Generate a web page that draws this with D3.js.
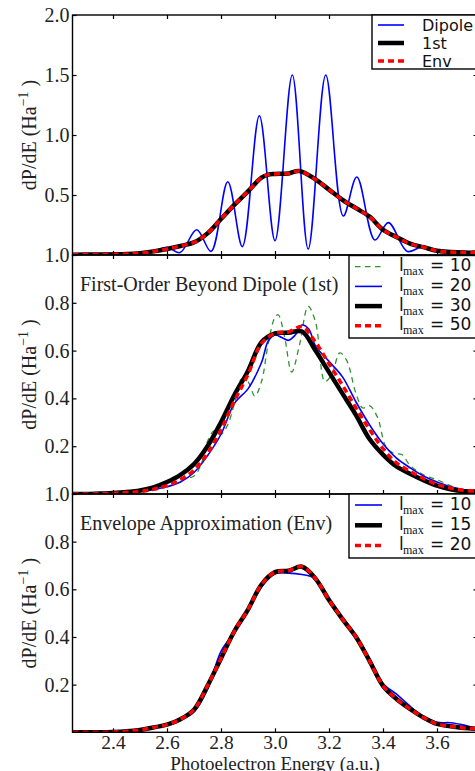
<!DOCTYPE html>
<html><head><meta charset="utf-8">
<script src="https://cdn.jsdelivr.net/npm/d3@7"></script>
<style>
html,body{margin:0;padding:0;background:#fff;}
svg{display:block;}
</style></head><body>
<svg id="chart" width="475" height="771"></svg>
<script>
// ---------- DATA ----------
const xDomain = [2.25, 3.75];
const xTicks = [2.4, 2.6, 2.8, 3.0, 3.2, 3.4, 3.6];
const xLabel = "Photoelectron Energy (a.u.)";

// Top panel
const topYTicks = [0.5, 1.0, 1.5, 2.0];
const dipoleEnergy = [2.25,2.4,2.5,2.56,2.6,2.648,2.71,2.763,2.825,2.879,2.942,3.0,3.064,3.123,3.188,3.253,3.303,3.37,3.42,3.49,3.543,3.6,3.65,3.75];
const dipoleValues = [0.003,0.005,0.012,0.04,0.065,0.02,0.21,0.03,0.61,0.07,1.16,0.12,1.50,0.05,1.50,0.325,0.65,0.125,0.27,0.03,0.065,0.025,0.02,0.02];
const topEnergy = [2.25,2.35,2.45,2.5,2.55,2.6,2.65,2.7,2.75,2.8,2.85,2.9,2.95,2.975,3.0,3.05,3.09,3.15,3.2,3.25,3.3,3.35,3.4,3.45,3.5,3.55,3.6,3.65,3.7,3.75];
const firstOrderValues = [0.003,0.004,0.008,0.015,0.03,0.05,0.075,0.105,0.18,0.30,0.42,0.53,0.645,0.67,0.675,0.68,0.70,0.63,0.545,0.46,0.39,0.32,0.21,0.15,0.095,0.065,0.035,0.025,0.02,0.02];
const envValues = [0.003,0.004,0.008,0.015,0.03,0.05,0.075,0.105,0.18,0.30,0.42,0.53,0.645,0.67,0.675,0.68,0.70,0.63,0.545,0.46,0.39,0.32,0.21,0.15,0.095,0.065,0.035,0.025,0.02,0.02];

// Middle panel (First-Order Beyond Dipole)
const midYTicks = [0.2, 0.4, 0.6, 0.8, 1.0];
const midTitle = "First-Order Beyond Dipole (1st)";
const mid10Energy = [2.25,2.4,2.5,2.55,2.6,2.65,2.7,2.725,2.75,2.775,2.8,2.825,2.85,2.875,2.9,2.925,2.95,2.975,3.0,3.012,3.035,3.062,3.09,3.123,3.15,3.185,3.21,3.24,3.265,3.3,3.325,3.35,3.38,3.41,3.44,3.47,3.5,3.55,3.6,3.65,3.7,3.75];
const mid10Values = [0,0.003,0.008,0.015,0.035,0.06,0.075,0.12,0.22,0.265,0.25,0.29,0.38,0.48,0.47,0.41,0.47,0.63,0.74,0.75,0.66,0.51,0.62,0.785,0.72,0.47,0.50,0.59,0.56,0.42,0.36,0.37,0.32,0.20,0.17,0.165,0.12,0.08,0.06,0.035,0.015,0.012];
const mid20Energy = [2.25,2.4,2.5,2.55,2.6,2.65,2.7,2.75,2.8,2.85,2.9,2.95,2.975,3.0,3.025,3.05,3.075,3.1,3.125,3.15,3.2,3.25,3.3,3.35,3.4,3.45,3.5,3.55,3.6,3.65,3.7,3.75];
const mid20Values = [0,0.003,0.01,0.018,0.03,0.05,0.09,0.16,0.25,0.38,0.44,0.55,0.64,0.665,0.655,0.643,0.665,0.707,0.69,0.62,0.555,0.49,0.385,0.29,0.21,0.15,0.11,0.075,0.05,0.03,0.018,0.012];
const gridEnergy = [2.25,2.3,2.35,2.4,2.45,2.5,2.55,2.6,2.65,2.7,2.75,2.8,2.85,2.9,2.95,3.0,3.05,3.1,3.15,3.2,3.25,3.3,3.35,3.4,3.45,3.5,3.55,3.6,3.65,3.7,3.75];
const mid30Values = [0,0,0.002,0.004,0.008,0.015,0.028,0.05,0.08,0.125,0.20,0.30,0.415,0.515,0.635,0.672,0.675,0.68,0.60,0.51,0.42,0.33,0.23,0.165,0.115,0.085,0.058,0.035,0.02,0.012,0.01];
const mid50Values = [0,0,0.001,0.003,0.006,0.01,0.02,0.035,0.06,0.10,0.17,0.27,0.39,0.50,0.63,0.672,0.678,0.70,0.635,0.545,0.455,0.36,0.27,0.19,0.13,0.095,0.065,0.04,0.025,0.015,0.012];
const midLegend = ["10", "20", "30", "50"];

// Bottom panel (Envelope Approximation)
const botYTicks = [0.2, 0.4, 0.6, 0.8, 1.0];
const botTitle = "Envelope Approximation (Env)";
const bot10Values = [0,0,0,0.001,0.004,0.01,0.02,0.032,0.052,0.085,0.18,0.34,0.42,0.51,0.61,0.665,0.668,0.662,0.645,0.555,0.475,0.405,0.31,0.205,0.16,0.11,0.065,0.042,0.04,0.03,0.015];
const bot15Values = [0,0,0,0.001,0.004,0.01,0.02,0.032,0.055,0.095,0.195,0.31,0.425,0.515,0.62,0.672,0.678,0.695,0.645,0.555,0.475,0.40,0.30,0.195,0.14,0.098,0.062,0.035,0.025,0.018,0.015];
const bot20Values = [0,0,0,0.001,0.004,0.01,0.02,0.032,0.055,0.095,0.195,0.31,0.425,0.515,0.62,0.672,0.678,0.695,0.645,0.555,0.475,0.40,0.30,0.195,0.14,0.098,0.062,0.035,0.025,0.018,0.015];
const botLegend = ["10", "15", "20"];
const topLegend = ["Dipole", "1st", "Env"];

// ---------- STYLES ----------
const SERIF = "'Liberation Serif','Times New Roman',serif";
const SANS = "'DejaVu Sans',sans-serif";
const st = {
  blue:  {stroke:"#0000ff", width:1.6, dash:null},
  black: {stroke:"#000000", width:4.5, dash:null},
  red:   {stroke:"#ff0000", width:3.5, dash:"6,4"},
  green: {stroke:"#2f922f", width:1.3, dash:"5.5,4.5"}
};

const svg = d3.select("#chart");
svg.append("rect").attr("width",475).attr("height",771).attr("fill","#fff");

const x = d3.scaleLinear().domain(xDomain).range([72.5, 477.5]);
const L = 72.5, R = 477.5;

const zip = (xs, ys) => xs.map((e,i)=>[e, ys[i]]);

const panels = [
  {id:"p0", top:15, bottom:255, domain:[0,2], ticks:topYTicks, fmt:d3.format(".1f"),
   series:[
     {d:zip(dipoleEnergy,dipoleValues), s:st.blue},
     {d:zip(topEnergy,firstOrderValues), s:st.black},
     {d:zip(topEnergy,envValues), s:st.red}
   ]},
  {id:"p1", top:255, bottom:494, domain:[0,1], ticks:midYTicks, fmt:d3.format(".1f"), title:midTitle,
   series:[
     {d:zip(mid10Energy,mid10Values), s:st.green},
     {d:zip(mid20Energy,mid20Values), s:st.blue},
     {d:zip(gridEnergy,mid30Values), s:st.black},
     {d:zip(gridEnergy,mid50Values), s:st.red}
   ]},
  {id:"p2", top:494, bottom:732.3, domain:[0,1], ticks:botYTicks, fmt:d3.format(".1f"), title:botTitle, xlabels:true,
   series:[
     {d:zip(gridEnergy,bot10Values), s:st.blue},
     {d:zip(gridEnergy,bot15Values), s:st.black},
     {d:zip(gridEnergy,bot20Values), s:st.red}
   ]}
];

const defs = svg.append("defs");

panels.forEach(p => {
  const y = d3.scaleLinear().domain(p.domain).range([p.bottom, p.top]);
  p.y = y;
  defs.append("clipPath").attr("id","clip-"+p.id)
    .append("rect").attr("x",L).attr("y",p.top).attr("width",R-L).attr("height",p.bottom-p.top);
  const g = svg.append("g").attr("clip-path","url(#clip-"+p.id+")");
  const line = d3.line().x(d=>x(d[0])).y(d=>y(d[1])).curve(d3.curveCatmullRom.alpha(0.5));
  p.series.forEach(sr => {
    g.append("path").attr("d", line(sr.d)).attr("fill","none")
      .attr("stroke", sr.s.stroke).attr("stroke-width", sr.s.width)
      .attr("stroke-dasharray", sr.s.dash).attr("stroke-linejoin","round");
  });
});

// axes & frames
panels.forEach(p => {
  const y = p.y;
  const gl = svg.append("g").attr("transform",`translate(${L},0)`)
    .call(d3.axisLeft(y).tickValues(p.ticks).tickFormat(p.fmt).tickSize(-4).tickPadding(3));
  const gr = svg.append("g").attr("transform",`translate(${R},0)`)
    .call(d3.axisRight(y).tickValues(p.ticks).tickFormat("").tickSize(-4));
  const gb = svg.append("g").attr("transform",`translate(0,${p.bottom})`)
    .call(d3.axisBottom(x).tickValues(xTicks).tickFormat(p.xlabels ? d3.format(".1f") : "").tickSize(-4).tickPadding(3));
  const gt = svg.append("g").attr("transform",`translate(0,${p.top})`)
    .call(d3.axisTop(x).tickValues(xTicks).tickFormat("").tickSize(-4));
  [gl,gr,gb,gt].forEach(a => {
    a.select(".domain").remove();
    a.selectAll(".tick line").attr("stroke","#000").attr("stroke-width",1.2);
    a.selectAll("text").attr("font-family",SERIF).attr("font-size",20).attr("fill","#222");
  });
  gb.selectAll("text").attr("font-size",19.5);
  svg.append("rect").attr("x",L).attr("y",p.top).attr("width",R-L).attr("height",p.bottom-p.top)
    .attr("fill","none").attr("stroke","#000").attr("stroke-width",1.4);
  // y label
  const cy = (p.top + p.bottom)/2;
  const t = svg.append("text").attr("transform",`translate(36,${cy}) rotate(-90)`)
    .attr("text-anchor","middle").attr("font-family",SERIF).attr("font-size",20).attr("fill","#222");
  t.append("tspan").text("dP/dE (Ha");
  t.append("tspan").attr("font-size",14).attr("dy",-8).text("\u22121");
  t.append("tspan").attr("dy",8).text(" )");
  if (p.title) {
    svg.append("text").attr("x",80).attr("y",p.top + 36).attr("font-family",SERIF)
      .attr("font-size",20).attr("fill","#222").text(p.title);
  }
});

// x label (bottom edge slightly cut, as in the reference)
svg.append("text").attr("x",275).attr("y",769.5).attr("text-anchor","middle")
  .attr("font-family",SERIF).attr("font-size",19).attr("fill","#222").text(xLabel);

// ---------- LEGENDS ----------
function legendBox(x0, y0, h) {
  svg.append("rect").attr("x",x0).attr("y",y0).attr("width",R+5-x0).attr("height",h)
    .attr("fill","#fff").attr("stroke","#000").attr("stroke-width",1.4);
}
function sample(x1, x2, yy, s) {
  svg.append("line").attr("x1",x1).attr("x2",x2).attr("y1",yy).attr("y2",yy)
    .attr("stroke",s.stroke).attr("stroke-width",s.width).attr("stroke-dasharray",s.dash);
}
// top legend
legendBox(372, 15, 54);
const topStyles = [st.blue, st.black, st.red];
topLegend.forEach((lab,i) => {
  const yy = 25 + i*18;
  sample(378, 404, yy, topStyles[i]);
  svg.append("text").attr("x",422).attr("y",yy+6).attr("font-family",SANS).attr("font-size",16)
    .attr("fill","#111").text(lab);
});
function lmaxLegend(y0, h, rowY0, step, labels, styles) {
  legendBox(349, y0, h);
  labels.forEach((lab,i) => {
    const yy = rowY0 + i*step;
    sample(355, 382, yy, styles[i]);
    svg.append("text").attr("x",399).attr("y",yy+4.5).attr("font-family",SANS).attr("font-size",17).attr("fill","#111").text("l");
    svg.append("text").attr("x",403).attr("y",yy+8.5).attr("font-family",SERIF).attr("font-size",12).attr("fill","#111").text("max");
    svg.append("text").attr("x",430).attr("y",yy+4.5).attr("font-family",SANS).attr("font-size",17).attr("fill","#111").text("= " + lab);
  });
}
lmaxLegend(255.5, 82.5, 266.7, 19.7, midLegend, [st.green, st.blue, st.black, st.red]);
lmaxLegend(494, 64, 505, 20.3, botLegend, [st.blue, st.black, st.red]);
</script>
</body></html>
